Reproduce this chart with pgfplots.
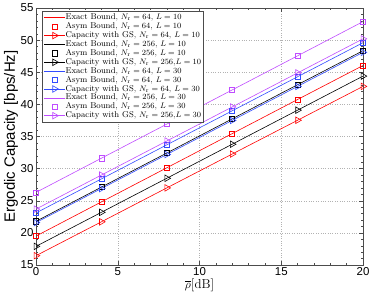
\documentclass[border=0pt]{standalone}
\usepackage{fontspec}
\usepackage{pgfplots}
\pgfplotsset{compat=1.18}
\newfontfamily\arial{Liberation Sans}
\definecolor{cred}{rgb}{1,0,0}
\definecolor{cblk}{rgb}{0,0,0}
\definecolor{cblu}{rgb}{0.2,0.3,1}
\definecolor{cpur}{rgb}{0.75,0.3,1}
\begin{document}
\begin{tikzpicture}
\begin{axis}[name=ax,
  scale only axis, width=327bp, height=257bp,
  xmin=0, xmax=20, ymin=15, ymax=55,
  xtick={0,5,10,15,20}, ytick={15,20,...,55},
  minor x tick num=4, minor y tick num=4,
  tick align=inside, major tick length=4bp, minor tick length=2bp,
  grid=major, major grid style={gray!60, dotted, line width=0.5pt},
  axis line style={line width=0.6pt, gray!60!black},
  every tick/.style={gray!60!black, line width=0.4pt},
  /pgf/number format/assume math mode=true,
  tick label style={font=\arial\fontsize{11.5}{12}\selectfont},
  xticklabel style={yshift=1bp},
  yticklabel style={xshift=1bp},
  ylabel={\arial\fontsize{15}{16}\selectfont Ergodic Capacity [bps/Hz]},
  ylabel style={yshift=-4bp},
  xlabel={\fontsize{13}{14}\selectfont $\overline{\rho}$[dB]},
  xlabel style={yshift=4bp},
  legend cell align=left,
  legend style={at={(0.018,0.988)}, anchor=north west, font=\fontsize{8.5}{9}\selectfont,
     draw=gray!60!black, line width=0.5pt, inner sep=2pt, row sep=0pt,
     nodes={inner sep=0.45bp, text height=6.1bp, text depth=1.9bp}},
  legend image code/.code={%
     \draw[mark repeat=2,mark phase=2] plot coordinates {(0cm,0cm) (0.36cm,0cm) (0.72cm,0cm)};},
  every axis plot/.append style={line width=0.6pt},
]
% N_r=64, L=10
\addplot[cred, no markers] coordinates {(0,19.5) (4,24.82) (8,30.13) (12,35.45) (16,40.76) (20,46.05)};
\addlegendentry{Exact Bound, $N_{\rm r}=64$, $L=10$}
\addplot[cred, only marks, mark=square, mark size=2.6pt] coordinates {(0,19.5) (4,24.82) (8,30.13) (12,35.45) (16,40.76) (20,46.05)};
\addlegendentry{Asym Bound, $N_{\rm r}=64$, $L=10$}
\addplot[cred, mark=triangle, mark size=3.8pt, mark options={rotate=-90, solid}] coordinates {(0,16.45) (4,21.72) (8,27.0) (12,32.27) (16,37.53) (20,42.8)};
\addlegendentry{Capacity with GS, $N_{\rm r}=64$, $L=10$}
% N_r=256, L=10
\addplot[cblk, no markers] coordinates {(0,21.8) (4,27.12) (8,32.43) (12,37.75) (16,43.06) (20,48.35)};
\addlegendentry{Exact Bound, $N_{\rm r}=256$, $L=10$}
\addplot[cblk, only marks, mark=square, mark size=2.6pt] coordinates {(0,21.8) (4,27.12) (8,32.43) (12,37.75) (16,43.06) (20,48.35)};
\addlegendentry{Asym Bound, $N_{\rm r}=256$, $L=10$}
\addplot[cblk, mark=triangle, mark size=3.8pt, mark options={rotate=-90, solid}] coordinates {(0,17.9) (4,23.2) (8,28.5) (12,33.8) (16,39.1) (20,44.4)};
\addlegendentry{Capacity with GS, $N_{\rm r}=256$,$L=10$}
% N_r=64, L=30
\addplot[cblu, no markers] coordinates {(0,23.1) (4,28.4) (8,33.7) (12,39.0) (16,44.3) (20,49.6)};
\addlegendentry{Exact Bound, $N_{\rm r}=64$, $L=30$}
\addplot[cblu, only marks, mark=square, mark size=2.6pt] coordinates {(0,23.1) (4,28.4) (8,33.7) (12,39.0) (16,44.3) (20,49.6)};
\addlegendentry{Asym Bound, $N_{\rm r}=64$, $L=30$}
\addplot[cblu, mark=triangle, mark size=3.8pt, mark options={rotate=-90, solid}] coordinates {(0,21.6) (4,26.9) (8,32.2) (12,37.5) (16,42.8) (20,48.1)};
\addlegendentry{Capacity with GS, $N_{\rm r}=64$, $L=30$}
% N_r=256, L=30
\addplot[cpur, no markers] coordinates {(0,26.3) (4,31.62) (8,36.93) (12,42.25) (16,47.56) (20,52.88)};
\addlegendentry{Exact Bound, $N_{\rm r}=256$, $L=30$}
\addplot[cpur, only marks, mark=square, mark size=2.6pt] coordinates {(0,26.3) (4,31.62) (8,36.93) (12,42.25) (16,47.56) (20,52.88)};
\addlegendentry{Asym Bound, $N_{\rm r}=256$, $L=30$}
\addplot[cpur, mark=triangle, mark size=3.8pt, mark options={rotate=-90, solid}] coordinates {(0,23.7) (4,29.0) (8,34.3) (12,39.6) (16,44.9) (20,50.2)};
\addlegendentry{Capacity with GS, $N_{\rm r}=256$,$L=30$}
\end{axis}
\pgfresetboundingbox
\path[use as bounding box] ([xshift=-36bp,yshift=-34bp]ax.south west) rectangle ([xshift=11bp,yshift=8bp]ax.north east);
\end{tikzpicture}
\end{document}
